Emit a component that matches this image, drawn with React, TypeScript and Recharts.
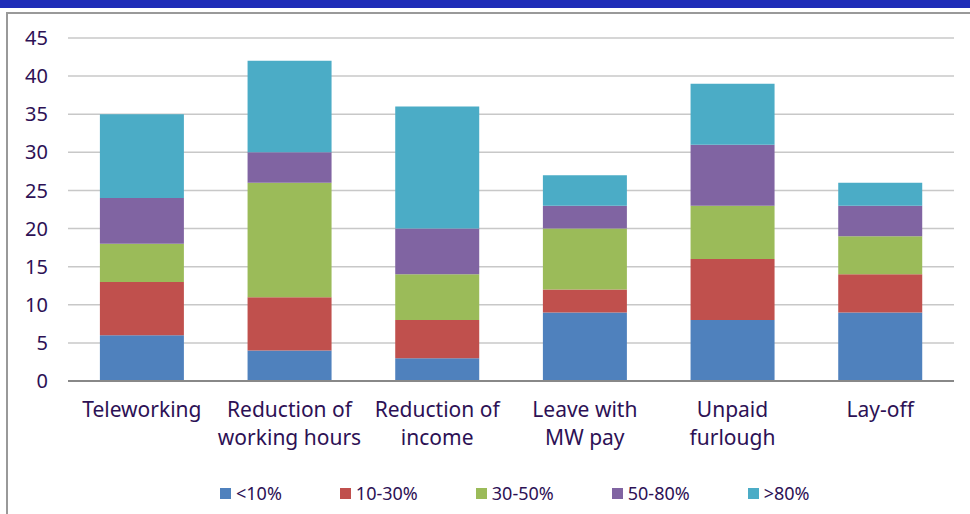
import React from 'react';
import { BarChart, Bar, XAxis, YAxis, CartesianGrid, Legend } from 'recharts';

const categories = [
  'Teleworking',
  'Reduction of\nworking hours',
  'Reduction of\nincome',
  'Leave with\nMW pay',
  'Unpaid\nfurlough',
  'Lay-off',
];
const under10 = [6, 4, 3, 9, 8, 9];
const from10to30 = [7, 7, 5, 3, 8, 5];
const from30to50 = [5, 15, 6, 8, 7, 5];
const from50to80 = [6, 4, 6, 3, 8, 4];
const over80 = [11, 12, 16, 4, 8, 3];
const yTicks = [0, 5, 10, 15, 20, 25, 30, 35, 40, 45];

const series = [
  { key: 'a', name: '<10%', values: under10, color: '#4f81bd' },
  { key: 'b', name: '10-30%', values: from10to30, color: '#c0504d' },
  { key: 'c', name: '30-50%', values: from30to50, color: '#9bbb59' },
  { key: 'd', name: '50-80%', values: from50to80, color: '#8064a2' },
  { key: 'e', name: '>80%', values: over80, color: '#4bacc6' },
];

const data = categories.map((cat, i) => {
  const row: Record<string, string | number> = { cat };
  series.forEach((s) => {
    row[s.key] = s.values[i];
  });
  return row;
});

const TEXT = '#2d1155';
const FONT = '"Noto Sans", "Open Sans", sans-serif';

function CatTick(props: any) {
  const { x, y, payload } = props;
  const lines = String(payload.value).split('\n');
  return (
    <text x={x} y={y} textAnchor="middle" fill={TEXT} fontSize={21} fontFamily={FONT}>
      {lines.map((l, i) => (
        <tspan key={i} x={x} dy={28}>
          {l}
        </tspan>
      ))}
    </text>
  );
}

function LegendRow() {
  return (
    <div style={{ display: 'flex', paddingLeft: 212, fontFamily: FONT, fontSize: 18, color: TEXT }}>
      {series.map((s) => (
        <div key={s.key} style={{ display: 'flex', alignItems: 'center', marginRight: 58 }}>
          <span style={{ width: 11, height: 11, background: s.color, marginRight: 5, display: 'inline-block' }} />
          <span>{s.name}</span>
        </div>
      ))}
    </div>
  );
}

export default function App() {
  return (
    <div style={{ position: 'absolute', left: 0, top: 0, width: 970, height: 514, background: '#fff', overflow: 'hidden' }}>
      <div style={{ position: 'absolute', left: 0, top: 0, width: 970, height: 8, background: '#1f2db8' }} />
      <div style={{ position: 'absolute', left: 6, top: 12, width: 980, height: 520, borderTop: '2px solid #999', borderLeft: '2px solid #999' }} />
      <div style={{ position: 'absolute', left: 0, top: 0 }}>
        <BarChart width={970} height={514} data={data} margin={{ top: 38, right: 16, left: 8, bottom: 0 }} barCategoryGap="21.6%">
          <CartesianGrid vertical={false} stroke="#c8c8c8" strokeWidth={1.5} />
          <XAxis
            dataKey="cat"
            interval={0}
            tick={<CatTick />}
            tickLine={false}
            axisLine={{ stroke: '#888', strokeWidth: 2 }}
            height={100}
          />
          <YAxis
            domain={[0, 45]}
            ticks={yTicks}
            width={60}
            tickLine={false}
            axisLine={false}
            tickMargin={14}
            tick={{ fill: TEXT, fontSize: 20, fontFamily: FONT }}
          />
          <Legend verticalAlign="bottom" height={33} content={<LegendRow />} />
          {series.map((s) => (
            <Bar key={s.key} dataKey={s.key} name={s.name} stackId="s" fill={s.color} isAnimationActive={false} />
          ))}
        </BarChart>
      </div>
    </div>
  );
}
